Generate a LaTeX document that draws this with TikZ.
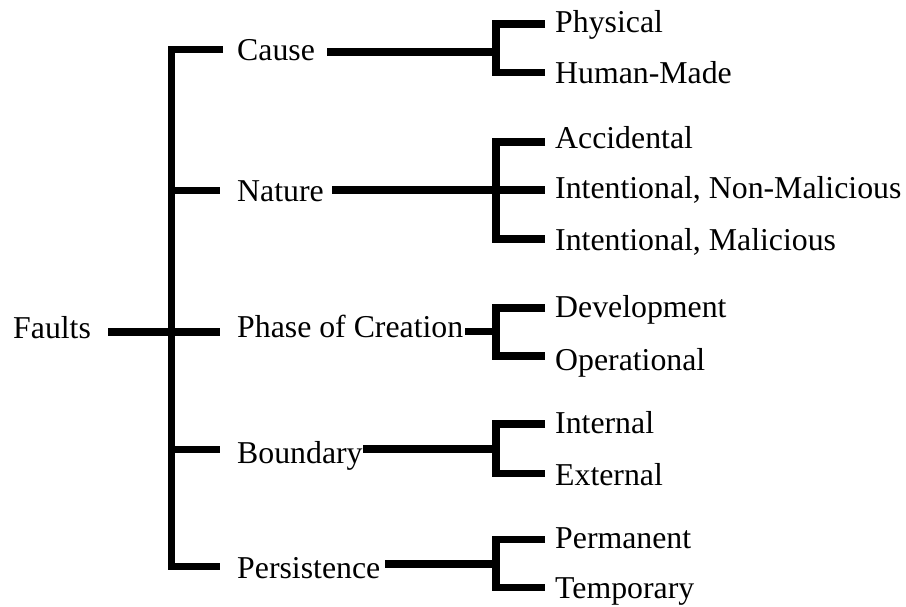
\documentclass[tikz,border=0pt]{standalone}
\usepackage{fontspec}
\setmainfont{Liberation Serif}
\begin{document}
\begin{tikzpicture}[x=1pt,y=-1pt,
  bar/.style={line width=7.5pt, line cap=butt, line join=miter},
  lbl/.style={anchor=base west, inner sep=0pt, font=\fontsize{31.8}{38}\selectfont}]
\useasboundingbox (0,0) rectangle (906,606);

% ---- labels ----
\node[lbl] (faults) at (13,338) {Faults};

\node[lbl] (cause)    at (237,60)    {Cause};
\node[lbl] (nature)   at (237,201.5) {Nature};
\node[lbl] (phase)    at (237,337)   {Phase of Creation};
\node[lbl] (boundary) at (237,463)   {Boundary};
\node[lbl] (persist)  at (237,578)   {Persistence};

\node[lbl] (physical) at (555,32.5) {Physical};
\node[lbl] (human)    at (555,83.5) {Human-Made};
\node[lbl] (accid)    at (555,148)  {Accidental};
\node[lbl] (intnm)    at (555,198)  {Intentional, Non-Malicious};
\node[lbl] (intm)     at (555,250)  {Intentional, Malicious};
\node[lbl] (devel)    at (555,317)  {Development};
\node[lbl] (oper)     at (555,370)  {Operational};
\node[lbl] (internal) at (555,433)  {Internal};
\node[lbl] (external) at (555,485)  {External};
\node[lbl] (perm)     at (555,548)  {Permanent};
\node[lbl] (temp)     at (555,598)  {Temporary};

% ---- trunk from Faults ----
\coordinate (rootA)  at (108,332);
\coordinate (trTop)  at (171.5,49.5);
\coordinate (trBot)  at (171.5,566.5);
\coordinate (toCause) at (223,49.5);
\coordinate (trNat)  at (171.5,190.5);
\coordinate (toNat)  at (220,190.5);
\coordinate (toPhase) at (220,332);
\coordinate (trBnd)  at (171.5,449.5);
\coordinate (toBnd)  at (220,449.5);
\coordinate (toPers) at (220,566.5);

\draw[bar] (toCause) -- (trTop) -- (trBot) -- (toPers);
\draw[bar] (trNat) -- (toNat);
\draw[bar] (rootA) -- (toPhase);
\draw[bar] (trBnd) -- (toBnd);

% ---- Cause ----
\coordinate (cA) at (327,52);   \coordinate (cJ) at (496,52);
\coordinate (cT) at (496,24);   \coordinate (cB) at (496,72.5);
\coordinate (cT2) at (545,24);  \coordinate (cB2) at (545,72.5);
\draw[bar] (cA) -- (cJ);
\draw[bar] (cT2) -- (cT) -- (cB) -- (cB2);

% ---- Nature ----
\coordinate (nA) at (332,190);  \coordinate (nJ) at (496,190);
\coordinate (nT) at (496,142);  \coordinate (nB) at (496,239);
\coordinate (nT2) at (545,142); \coordinate (nM2) at (545,190); \coordinate (nB2) at (545,239);
\draw[bar] (nA) -- (nM2);
\draw[bar] (nT2) -- (nT) -- (nB) -- (nB2);

% ---- Phase of Creation ----
\coordinate (pA) at (465,331.5); \coordinate (pJ) at (496,331.5);
\coordinate (pT) at (496,308);   \coordinate (pB) at (496,356);
\coordinate (pT2) at (545,308);  \coordinate (pB2) at (545,356);
\draw[bar] (pA) -- (pJ);
\draw[bar] (pT2) -- (pT) -- (pB) -- (pB2);

% ---- Boundary ----
\coordinate (bA) at (363,449);  \coordinate (bJ) at (496,449);
\coordinate (bT) at (496,424);  \coordinate (bB) at (496,473.5);
\coordinate (bT2) at (545,424); \coordinate (bB2) at (545,473.5);
\draw[bar] (bA) -- (bJ);
\draw[bar] (bT2) -- (bT) -- (bB) -- (bB2);

% ---- Persistence ----
\coordinate (sA) at (385,564);  \coordinate (sJ) at (496,564);
\coordinate (sT) at (496,539.5); \coordinate (sB) at (496,587.5);
\coordinate (sT2) at (545,539.5); \coordinate (sB2) at (545,587.5);
\draw[bar] (sA) -- (sJ);
\draw[bar] (sT2) -- (sT) -- (sB) -- (sB2);
\end{tikzpicture}
\end{document}
